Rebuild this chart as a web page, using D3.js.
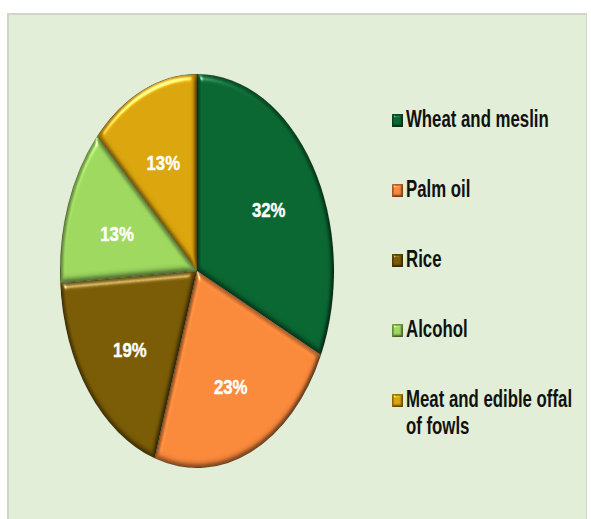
<!DOCTYPE html>
<html>
<head>
<meta charset="utf-8">
<script src="https://cdn.jsdelivr.net/npm/d3@7/dist/d3.min.js"></script>
<style>
  html, body { margin: 0; padding: 0; background: #ffffff; }
  svg { display: block; }
  text { font-family: "Liberation Sans", Arial, sans-serif; font-weight: bold; }
</style>
</head>
<body>
<svg id="chart" width="591" height="519"></svg>
<script>
// Import shares by product (percent)
const categories = ["Wheat and meslin", "Palm oil", "Rice", "Alcohol", "Meat and edible offal of fowls"];
const shares = [32, 23, 19, 13, 13];
const sliceColors = ["#096631", "#f8883a", "#795a05", "#9cd65e", "#d8a30c"];
// Legend labels broken onto lines
const legendLines = [["Wheat and meslin"], ["Palm oil"], ["Rice"], ["Alcohol"], ["Meat and edible offal", "of fowls"]];

const W = 591, H = 519;
const svg = d3.select("#chart");
const defs = svg.append("defs");

// Bevel: edge shading multiplied onto the fill, plus a specular glint along edges facing the light
function bevel(id, blur, scale, specK) {
  const f = defs.append("filter").attr("id", id)
    .attr("color-interpolation-filters", "sRGB")
    .attr("x", "-10%").attr("y", "-10%").attr("width", "120%").attr("height", "120%");
  f.append("feGaussianBlur").attr("in", "SourceAlpha").attr("stdDeviation", blur).attr("result", "blur");
  const diff = f.append("feDiffuseLighting").attr("in", "blur").attr("surfaceScale", scale)
    .attr("diffuseConstant", 1.0).attr("lighting-color", "#ffffff").attr("result", "diff");
  diff.append("feDistantLight").attr("azimuth", 235).attr("elevation", 80);
  f.append("feComposite").attr("in", "SourceGraphic").attr("in2", "diff")
    .attr("operator", "arithmetic").attr("k1", 1.02).attr("k2", 0).attr("k3", 0).attr("k4", 0).attr("result", "shaded");
  const spec = f.append("feSpecularLighting").attr("in", "blur").attr("surfaceScale", scale)
    .attr("specularConstant", specK).attr("specularExponent", 30).attr("lighting-color", "#ffffff").attr("result", "spec");
  spec.append("feDistantLight").attr("azimuth", 235).attr("elevation", 30);
  f.append("feComposite").attr("in", "spec").attr("in2", "SourceAlpha").attr("operator", "in").attr("result", "specIn");
  f.append("feComposite").attr("in", "shaded").attr("in2", "specIn")
    .attr("operator", "arithmetic").attr("k1", 0).attr("k2", 1).attr("k3", 1).attr("k4", 0).attr("result", "lit");
  f.append("feComposite").attr("in", "lit").attr("in2", "SourceAlpha").attr("operator", "in");
}
bevel("bevel", 3.5, 6, 0.6);
bevel("bevelSmall", 1.5, 3, 0.4);

// Panel with a faint grey edge
svg.append("rect").attr("x", 7).attr("y", 13).attr("width", 580).attr("height", 506).attr("fill", "#cfd6c8");
svg.append("rect").attr("x", 9).attr("y", 15).attr("width", 577).attr("height", 504).attr("fill", "#e2eed8");

// Pie, drawn as a circle and squeezed horizontally into an upright ellipse
const cx = 197, cy = 271, R = 197, sx = 137 / 197;
const pie = d3.pie().sort(null).value(d => d);
const arcs = pie(shares);
const arc = d3.arc().innerRadius(0).outerRadius(R);

const g = svg.append("g").attr("transform", `translate(${cx},${cy}) scale(${sx},1)`);
g.selectAll("path.slice")
  .data(arcs)
  .join("path")
  .attr("class", "slice")
  .attr("d", arc)
  .attr("fill", (d, i) => sliceColors[i])
  .attr("stroke", "#2a2a10")
  .attr("stroke-opacity", 0.5)
  .attr("stroke-width", 1)
  .attr("filter", "url(#bevel)");

// Percentage labels
const labelArc = d3.arc().innerRadius(R * 0.62).outerRadius(R * 0.62);
svg.append("g").selectAll("text")
  .data(arcs)
  .join("text")
  .attr("transform", d => {
    const [x, y] = labelArc.centroid(d);
    return `translate(${cx + x * sx},${cy + y + 4}) scale(0.8,1)`;
  })
  .attr("text-anchor", "middle")
  .attr("dominant-baseline", "central")
  .attr("font-size", 21)
  .attr("fill", "#ffffff")
  .attr("stroke", "#ffffff")
  .attr("stroke-width", 0.4)
  .text(d => d.data + "%");

// Legend
const legendY = d3.scalePoint().domain(categories).range([127, 407]);
const legend = svg.append("g");
categories.forEach((c, i) => {
  const y = legendY(c);
  legend.append("rect")
    .attr("x", 392).attr("y", y - 13).attr("width", 11).attr("height", 13)
    .attr("fill", sliceColors[i])
    .attr("filter", "url(#bevelSmall)");
  legendLines[i].forEach((line, j) => {
    legend.append("text")
      .attr("transform", `translate(406,${y + j * 27}) scale(0.7,1)`)
      .attr("font-size", 24)
      .attr("fill", "#111111")
      .text(line);
  });
});
</script>
</body>
</html>
